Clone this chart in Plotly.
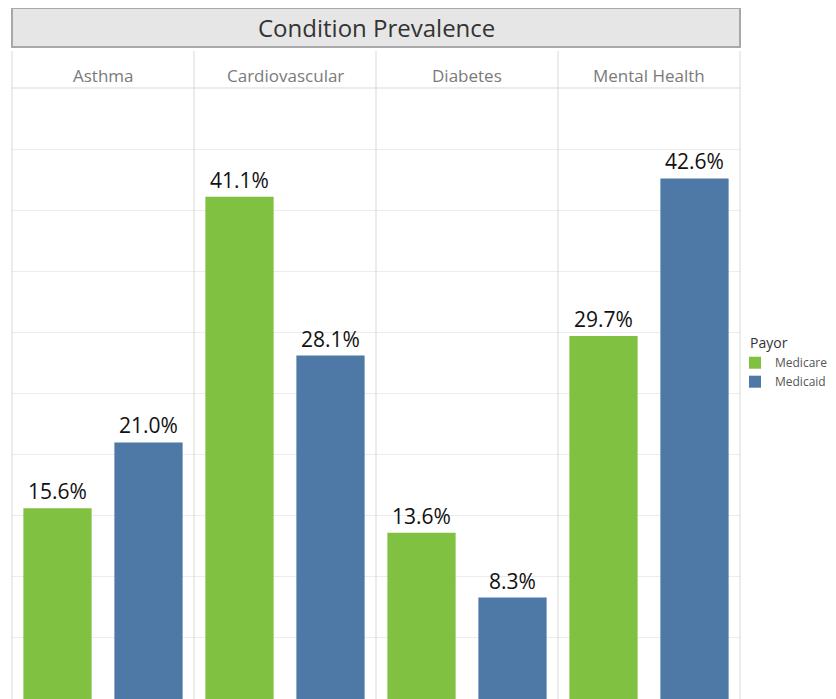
"""
Condition prevalence by payor - faceted bar chart.
"""

import plotly.graph_objects as go
from plotly.subplots import make_subplots

# data
conditions = ["Asthma", "Cardiovascular", "Diabetes", "Mental Health"]
payors = ["Medicare", "Medicaid"]
medicare = [15.6, 41.1, 13.6, 29.7]
medicaid = [21.0, 28.1, 8.3, 42.6]

colors = {"Medicare": "#80c141", "Medicaid": "#4e79a7"}
values = {"Medicare": medicare, "Medicaid": medicaid}

FONT = "Open Sans"
OFF = 8  # page body margin
W, H = 836 - OFF, 699 - OFF
L, T, B = 12 - OFF, 88 - OFF, 0
R = W - L - 728
plot_h = H - T - B
plot_w = W - L - R


def py(ypx):
    # screen pixel row -> paper y
    return (H - B - (ypx - OFF)) / plot_h


def px(xpx):
    # screen pixel column -> paper x
    return (xpx - OFF - L) / plot_w


fig = make_subplots(rows=1, cols=4, shared_yaxes=True, horizontal_spacing=0)

for i, cond in enumerate(conditions):
    for p in payors:
        fig.add_trace(
            go.Bar(
                x=[p],
                y=[values[p][i]],
                name=p,
                legendgroup=p,
                showlegend=(i == 0),
                marker=dict(color=colors[p], line=dict(width=0)),
                texttemplate="%{y:.1f}%",
                textposition="outside",
                textfont=dict(size=21, color="#111111", family=FONT),
                cliponaxis=False,
                hovertemplate=cond + " / " + p + ": %{y:.1f}%<extra></extra>",
            ),
            row=1,
            col=i + 1,
        )

fig.update_xaxes(
    showticklabels=False,
    showgrid=False,
    zeroline=False,
    showline=False,
    categoryorder="array",
    categoryarray=payors,
)
fig.update_yaxes(
    range=[0, 50],
    dtick=5,
    showticklabels=False,
    showgrid=True,
    gridcolor="#ececec",
    gridwidth=1,
    zeroline=False,
    showline=False,
)

fig.update_layout(
    width=W,
    height=H,
    margin=dict(l=L, r=R, t=T, b=B, autoexpand=False),
    paper_bgcolor="white",
    plot_bgcolor="white",
    barmode="overlay",
    bargap=0.25,
    font=dict(family=FONT, color="#333333"),
    legend=dict(
        title=dict(text="Payor", font=dict(size=14, color="#333333")),
        font=dict(size=12, color="#555555"),
        x=px(748),
        xanchor="left",
        y=py(330),
        yanchor="top",
        itemwidth=30,
        indentation=-13,
        tracegroupgap=0,
        bgcolor="rgba(0,0,0,0)",
    ),
)

# title box
fig.add_shape(
    type="rect", xref="paper", yref="paper",
    x0=0, x1=1, y0=py(47), y1=py(8),
    fillcolor="#e6e6e6", line=dict(color="#a8a8a8", width=2), layer="below",
)
fig.add_annotation(
    text="Condition Prevalence", xref="paper", yref="paper",
    x=0.5, y=py(28), xanchor="center", yanchor="middle",
    showarrow=False, font=dict(size=24, color="#333333", family=FONT),
)

# facet header line and panel dividers
fig.add_shape(
    type="line", xref="paper", yref="paper",
    x0=0, x1=1, y0=py(88), y1=py(88),
    line=dict(color="#d9d9d9", width=1),
)
for k in range(len(conditions) + 1):
    xp = k / len(conditions)
    fig.add_shape(
        type="line", xref="paper", yref="paper",
        x0=xp, x1=xp, y0=0, y1=py(51),
        line=dict(color="#d9d9d9", width=1),
    )

for i, cond in enumerate(conditions):
    fig.add_annotation(
        text=cond, xref="paper", yref="paper",
        x=(i + 0.5) / len(conditions), y=py(75),
        xanchor="center", yanchor="middle", showarrow=False,
        font=dict(size=17, color="#7a7a7a", family=FONT),
    )

fig.write_html("out.html")
